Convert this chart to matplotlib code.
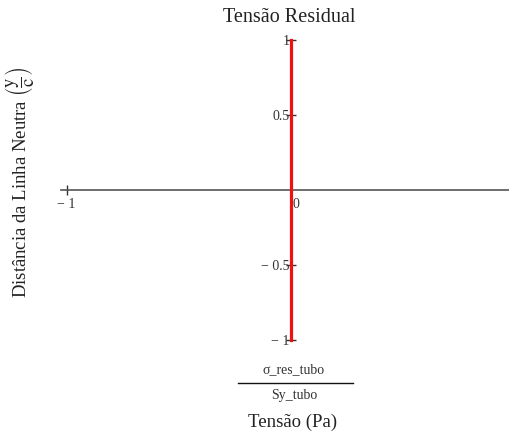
import numpy as np
import matplotlib.pyplot as plt
from matplotlib.lines import Line2D

plt.rcParams['font.family'] = ['Liberation Serif', 'DejaVu Serif']
plt.rcParams['mathtext.fontset'] = 'stix'

# Data: normalised residual stress across the section
y_c = [-1.0, 1.0]            # distance from neutral line (y/c)
sigma_ratio = [0.0, 0.0]     # sigma_res_tubo / Sy_tubo

xticks = [-1, 0]
xtick_labels = ['\u2212 1', '0']
yticks = [1, 0.5, -0.5, -1]
ytick_labels = ['1', '0.5', '\u2212 0.5', '\u2212 1']

W, H = 509, 432
fig = plt.figure(figsize=(W / 100, H / 100), dpi=100)
ax = fig.add_axes([61 / W, 1 - 340 / H, 448 / W, 300 / H])

ax.plot(sigma_ratio, y_c, color='#f01010', lw=2.3, zorder=5, clip_on=False)

ax.set_xlim(-1.025, 0.975)
ax.set_ylim(-1, 1)

for s in ['top', 'right']:
    ax.spines[s].set_visible(False)
ax.spines['left'].set_position(('data', 0))
ax.spines['bottom'].set_position(('data', 0))
ax.spines['bottom'].set_color('#555555')
ax.spines['bottom'].set_linewidth(1.2)
ax.spines['left'].set_color('#555555')
ax.spines['left'].set_linewidth(1.0)

ax.set_xticks(xticks)
ax.set_yticks(yticks)
ax.tick_params(axis='both', direction='inout', length=7, width=1.0,
               color='#333333', labelbottom=False, labelleft=False)

# tick labels, placed the way Mathcad does
ax.text(-1, -0.05, xtick_labels[0], ha='center', va='top', fontsize=10, color='#333333')
ax.text(0.01, -0.05, xtick_labels[1], ha='left', va='top', fontsize=10, color='#333333')
for v, lab in zip(yticks, ytick_labels):
    ax.text(-0.005, v - 0.01, lab, ha='right', va='center', fontsize=10, color='#333333')

fig.text(289 / W, 1 - 18 / H, 'Tensão Residual', ha='center', va='center',
         fontsize=14.5, color='#222222')
fig.text(20 / W, 1 - 182 / H, r'Distância da Linha Neutra $\left(\dfrac{\mathrm{y}}{\mathrm{c}}\right)$',
         rotation=90, ha='center', va='center', fontsize=13.5, color='#222222')

# x label: fraction plus units
fig.text(294 / W, 1 - 370 / H, 'σ_res_tubo', ha='center', va='center', fontsize=10, color='#333333')
fig.add_artist(Line2D([238 / W, 353 / W], [1 - 383 / H, 1 - 383 / H], color='#111111', lw=1.0))
fig.text(294 / W, 1 - 396 / H, 'Sy_tubo', ha='center', va='center', fontsize=10, color='#333333')
fig.text(293 / W, 1 - 422 / H, 'Tensão (Pa)', ha='center', va='center', fontsize=13.5, color='#222222')

fig.savefig('out.png', dpi=100)
